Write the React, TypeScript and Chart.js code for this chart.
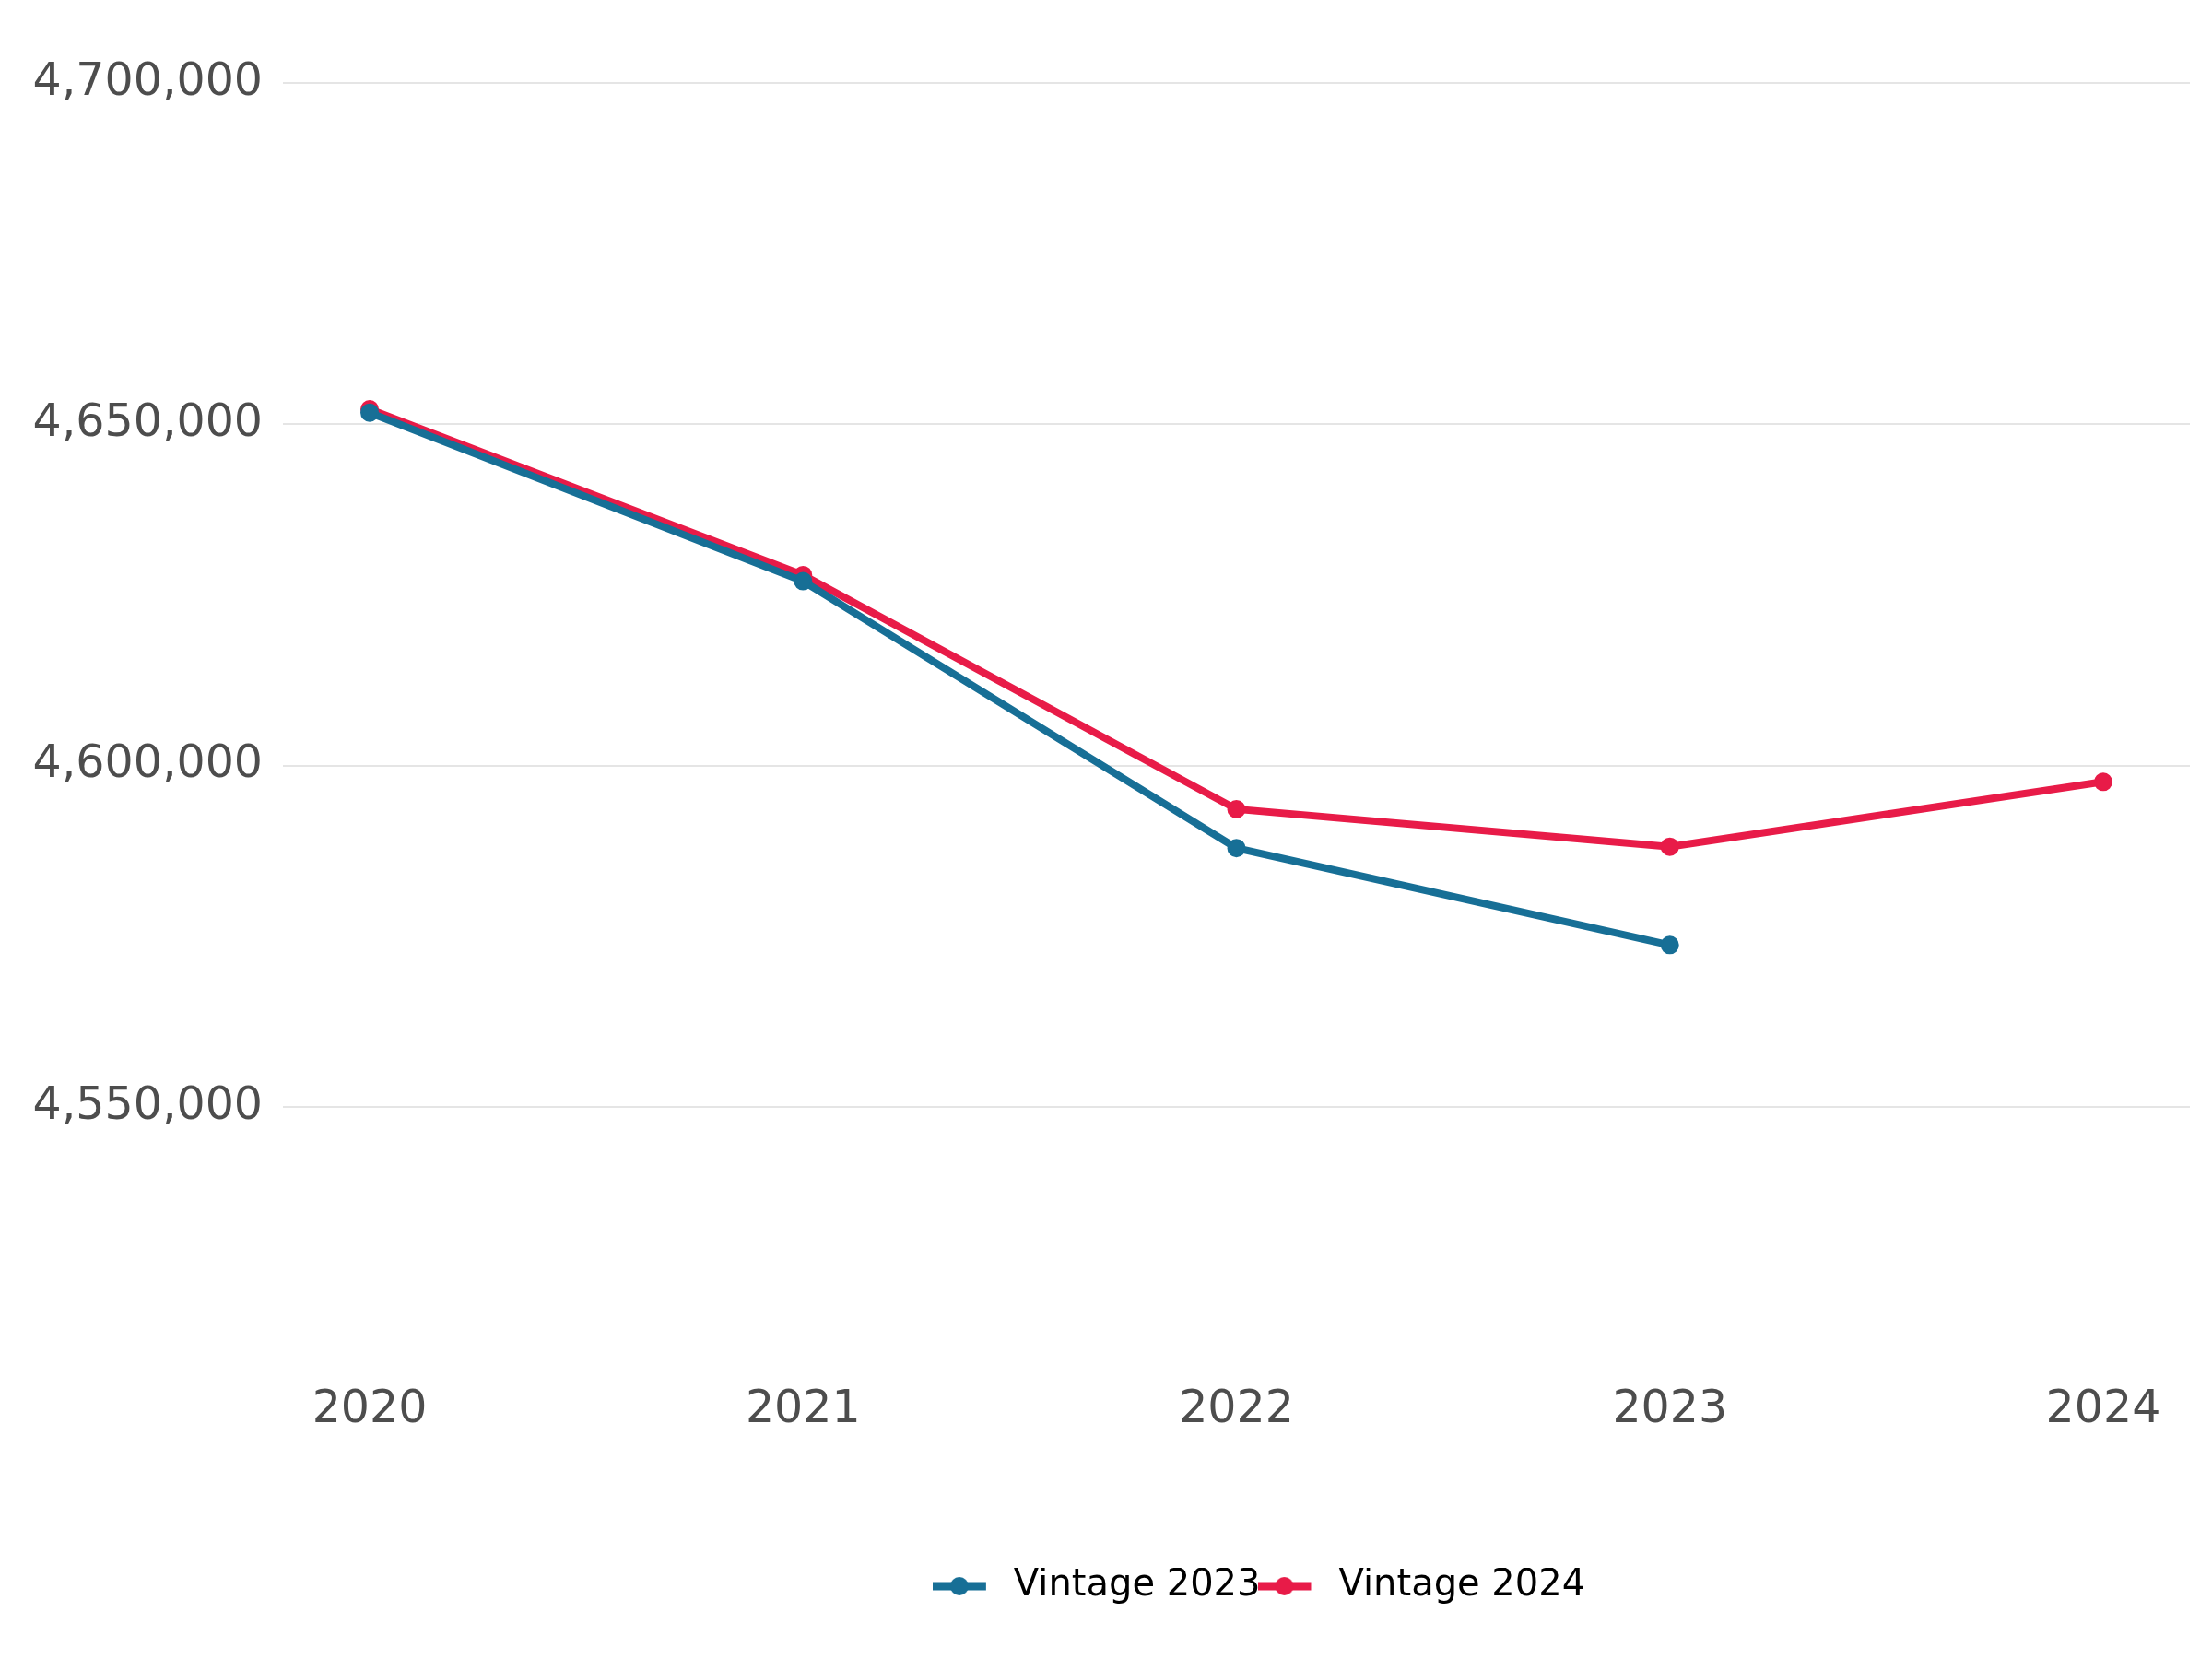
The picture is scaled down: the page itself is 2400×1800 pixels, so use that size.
import React, { useEffect, useRef } from "react";
import { Chart, registerables } from "chart.js";

Chart.register(...registerables);

// ---- data ----
const YEARS_V2023 = [2020, 2021, 2022, 2023];
const VALUES_V2023 = [4651700, 4627000, 4587900, 4573700];
const YEARS_V2024 = [2020, 2021, 2022, 2023, 2024];
const VALUES_V2024 = [4652200, 4627900, 4593600, 4588100, 4597600];
const SERIES_LABELS = ["Vintage 2023", "Vintage 2024"];
const X_TICKS = [2020, 2021, 2022, 2023, 2024];
const Y_TICKS = [4550000, 4600000, 4650000, 4700000];

// ---- style ----
const BLUE = "#176f96";
const RED = "#e81b48";
const FONT = "'DejaVu Sans', 'Noto Sans', sans-serif";
const TICK_COLOR = "#4d4d4d";
const LEGEND_SHIFT = 162;

function makeIcon(color: string): HTMLCanvasElement {
  const c = document.createElement("canvas");
  c.width = 71;
  c.height = 22;
  const ctx = c.getContext("2d")!;
  ctx.fillStyle = color;
  ctx.fillRect(0, 11 - 4.5, 58, 9);
  ctx.beginPath();
  ctx.arc(29, 11, 10, 0, Math.PI * 2);
  ctx.fill();
  return c;
}

const shiftLegend = {
  id: "shiftLegend",
  afterLayout(chart: any) {
    const l = chart.legend;
    if (l) {
      l.left += LEGEND_SHIFT;
      l.right += LEGEND_SHIFT;
    }
  },
};

export default function App() {
  const ref = useRef<HTMLCanvasElement | null>(null);

  useEffect(() => {
    if (!ref.current) return;
    const icons = [makeIcon(BLUE), makeIcon(RED)];
    const chart = new Chart(ref.current, {
      type: "line",
      data: {
        datasets: [
          {
            label: SERIES_LABELS[0],
            data: YEARS_V2023.map((x, i) => ({ x, y: VALUES_V2023[i] })),
            borderColor: BLUE,
            backgroundColor: BLUE,
            borderWidth: 8,
            pointRadius: 9,
            pointBorderWidth: 2,
            pointBackgroundColor: BLUE,
            pointBorderColor: BLUE,
            tension: 0,
          },
          {
            label: SERIES_LABELS[1],
            data: YEARS_V2024.map((x, i) => ({ x, y: VALUES_V2024[i] })),
            borderColor: RED,
            backgroundColor: RED,
            borderWidth: 8,
            pointRadius: 9,
            pointBorderWidth: 2,
            pointBackgroundColor: RED,
            pointBorderColor: RED,
            tension: 0,
          },
        ],
      },
      options: {
        animation: false,
        responsive: false,
        maintainAspectRatio: false,
        layout: { padding: { left: 35, right: 24, top: 90, bottom: 49 } },
        scales: {
          x: {
            type: "linear",
            min: 2019.8,
            max: 2024.2,
            grid: { display: false, drawTicks: false },
            border: { display: false },
            afterBuildTicks: (scale: any) => {
              scale.ticks = X_TICKS.map((v) => ({ value: v }));
            },
            afterFit: (scale: any) => {
              scale.height = 278;
              scale.paddingLeft = 0;
              scale.paddingRight = 0;
            },
            ticks: {
              padding: 78,
              color: TICK_COLOR,
              font: { family: FONT, size: 49 },
              maxRotation: 0,
              autoSkip: false,
              callback: (v: any) => String(v),
            },
          },
          y: {
            type: "linear",
            min: 4520000,
            max: 4700000,
            grid: { color: "#e5e5e5", lineWidth: 2, drawTicks: false },
            border: { display: false },
            afterBuildTicks: (scale: any) => {
              scale.ticks = Y_TICKS.map((v) => ({ value: v }));
            },
            afterFit: (scale: any) => {
              scale.width = 272;
            },
            ticks: {
              padding: 22,
              color: TICK_COLOR,
              font: { family: FONT, size: 49 },
              callback: (v: any) => Number(v).toLocaleString("en-US"),
            },
          },
        },
        plugins: {
          tooltip: { enabled: false },
          legend: {
            position: "bottom",
            labels: {
              usePointStyle: true,
              pointStyleWidth: 65,
              padding: 0,
              color: "#000000",
              font: { family: FONT, size: 40 },
              generateLabels: (c: any) =>
                (Chart.defaults.plugins.legend.labels as any)
                  .generateLabels(c)
                  .map((l: any, i: number) => ({ ...l, pointStyle: icons[i] })),
            },
          },
        },
      },
      plugins: [shiftLegend],
    } as any);
    return () => chart.destroy();
  }, []);

  return (
    <div style={{ position: "absolute", left: 0, top: 0, width: 2400, height: 1800, background: "#fff" }}>
      <canvas ref={ref} width={2400} height={1800} style={{ display: "block" }} />
    </div>
  );
}
